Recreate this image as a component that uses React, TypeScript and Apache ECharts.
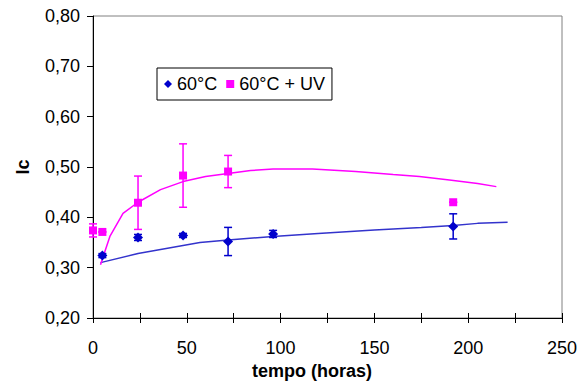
import React, { useEffect, useRef } from "react";
import * as echarts from "echarts";

const blueX = [5, 24, 48, 72, 96, 192];
const blueY = [0.324, 0.36, 0.364, 0.352, 0.367, 0.382];
const blueErr = [0.004, 0.006, 0.004, 0.028, 0.007, 0.025];

const pinkX = [0, 5, 24, 48, 72, 192];
const pinkY = [0.374, 0.371, 0.429, 0.483, 0.491, 0.43];
const pinkErr = [0.013, 0, 0.053, 0.063, 0.032, 0];

const blueTrendX = [4, 24, 48, 57, 72, 96, 120, 150, 175, 192, 205, 221];
const blueTrendY = [0.31, 0.328, 0.344, 0.35, 0.355, 0.362, 0.368, 0.375, 0.38, 0.384, 0.388, 0.39];

const pinkTrendX = [4, 9, 16, 24, 36, 48, 60, 72, 84, 96, 117, 140, 160, 174, 190, 205, 215];
const pinkTrendY = [0.306, 0.362, 0.408, 0.43, 0.455, 0.471, 0.481, 0.487, 0.493, 0.496, 0.496, 0.491, 0.485, 0.481, 0.474, 0.467, 0.461];

const seriesNames = ["60°C", "60°C + UV"];
const axisTitles = { x: "tempo (horas)", y: "Ic" };

const BLUE = "#0000CC";
const BLUE_LINE = "#3333CC";
const PINK = "#FF00FF";
const FONT = "Liberation Sans";
const FS = 18;

function errorSeries(xs: number[], ys: number[], errs: number[], color: string) {
  return {
    type: "custom",
    silent: true,
    z: 3,
    data: xs.map((x, i) => [x, ys[i] - errs[i], ys[i] + errs[i]]),
    renderItem: (params: any, api: any) => {
      const x = api.value(0);
      const lo = api.coord([x, api.value(1)]);
      const hi = api.coord([x, api.value(2)]);
      const hw = 4;
      const style = { stroke: color, lineWidth: 1.5 };
      return {
        type: "group",
        children: [
          { type: "line", shape: { x1: lo[0], y1: lo[1], x2: hi[0], y2: hi[1] }, style },
          { type: "line", shape: { x1: lo[0] - hw, y1: lo[1], x2: lo[0] + hw, y2: lo[1] }, style },
          { type: "line", shape: { x1: hi[0] - hw, y1: hi[1], x2: hi[0] + hw, y2: hi[1] }, style },
        ],
      };
    },
  };
}

export default function App() {
  const ref = useRef<HTMLDivElement>(null);
  useEffect(() => {
    const chart = echarts.init(ref.current!, null, { renderer: "svg" });
    const labelFmt = (v: number) => v.toFixed(2).replace(".", ",");
    chart.setOption({
      animation: false,
      textStyle: { fontFamily: FONT },
      grid: {
        left: 93,
        right: 26,
        top: 16,
        bottom: 67,
        show: true,
        borderColor: "#808080",
        borderWidth: 1,
      },
      legend: {
        data: seriesNames,
        left: 157,
        top: 68,
        orient: "horizontal",
        padding: [7, 7, 7, 7],
        itemWidth: 8,
        itemHeight: 8,
        itemGap: 9,
        borderColor: "#000",
        borderWidth: 1,
        textStyle: { fontFamily: FONT, fontSize: FS, color: "#000" },
      },
      xAxis: [
        {
          type: "value",
          min: 0,
          max: 250,
          interval: 50,
          position: "bottom",
          axisLine: { lineStyle: { color: "#000", width: 1 } },
          axisTick: { show: true, length: 5, lineStyle: { color: "#000" } },
          minorTick: { show: true, splitNumber: 2, length: 5, lineStyle: { color: "#000" } },
          splitLine: { show: false },
          axisLabel: { color: "#000", fontSize: FS, fontFamily: FONT, margin: 21 },
          name: axisTitles.x,
          nameLocation: "middle",
          nameGap: 43,
          nameTextStyle: {
            color: "#000",
            fontSize: FS,
            fontWeight: "bold",
            fontFamily: FONT,
            padding: [0, 31, 0, 0],
          },
        },
        {
          type: "value",
          min: 0,
          max: 250,
          interval: 50,
          position: "bottom",
          offset: 0,
          axisLine: { show: false },
          axisTick: { show: true, inside: true, length: 5, lineStyle: { color: "#000" } },
          minorTick: { show: true, splitNumber: 2, length: 5, lineStyle: { color: "#000" } },
          splitLine: { show: false },
          axisLabel: { show: false },
        },
      ],
      yAxis: {
        type: "value",
        min: 0.2,
        max: 0.8,
        interval: 0.1,
        axisLine: { show: true, lineStyle: { color: "#000", width: 1 } },
        axisTick: { show: true, length: 6, lineStyle: { color: "#000" } },
        splitLine: { show: false },
        axisLabel: { color: "#000", fontSize: FS, fontFamily: FONT, margin: 13, formatter: labelFmt },
        name: axisTitles.y,
        nameLocation: "middle",
        nameGap: 61,
        nameRotate: 90,
        nameTextStyle: { color: "#000", fontSize: FS, fontWeight: "bold", fontFamily: FONT },
      },
      series: [
        {
          type: "line",
          name: "trend1",
          data: blueTrendX.map((x, i) => [x, blueTrendY[i]]),
          showSymbol: false,
          lineStyle: { color: BLUE_LINE, width: 1.5 },
          itemStyle: { color: BLUE_LINE },
          z: 2,
          silent: true,
        },
        {
          type: "line",
          name: "trend2",
          data: pinkTrendX.map((x, i) => [x, pinkTrendY[i]]),
          showSymbol: false,
          lineStyle: { color: PINK, width: 1.5 },
          itemStyle: { color: PINK },
          z: 2,
          silent: true,
        },
        errorSeries(blueX, blueY, blueErr, BLUE),
        errorSeries(pinkX, pinkY, pinkErr, PINK),
        {
          type: "scatter",
          name: seriesNames[0],
          symbol: "diamond",
          symbolSize: 10,
          itemStyle: { color: BLUE, opacity: 1 },
          data: blueX.map((x, i) => [x, blueY[i]]),
          z: 4,
        },
        {
          type: "scatter",
          name: seriesNames[1],
          symbol: "rect",
          symbolSize: 8,
          itemStyle: { color: PINK, opacity: 1 },
          data: pinkX.map((x, i) => [x, pinkY[i]]),
          z: 4,
        },
      ],
    });
    return () => chart.dispose();
  }, []);
  return <div ref={ref} style={{ width: 588, height: 385, position: "absolute", left: 0, top: 0 }} />;
}
